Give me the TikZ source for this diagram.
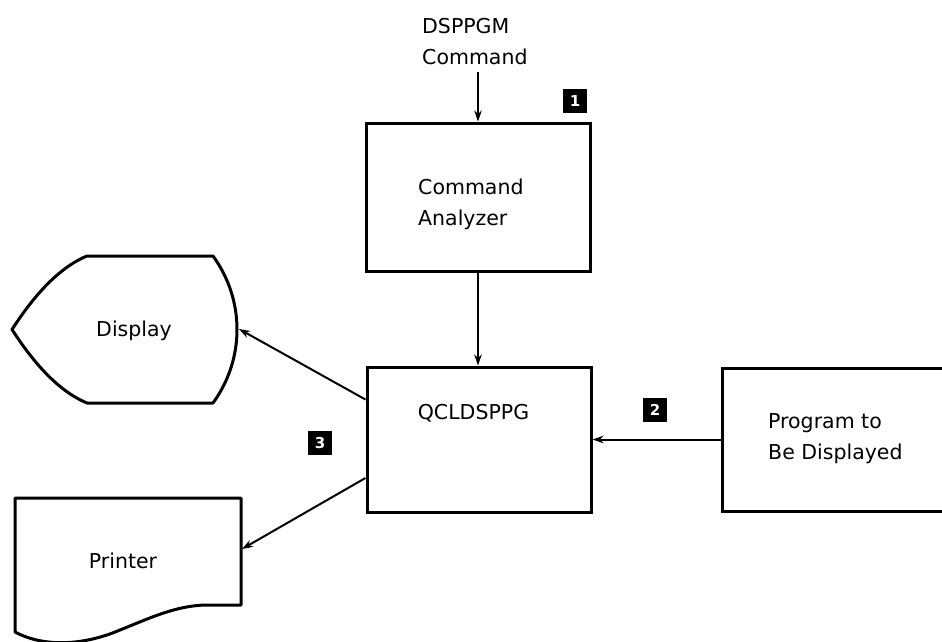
\documentclass[tikz,border=0pt]{standalone}
\usepackage{fontspec}
\setmainfont{DejaVu Sans}
\usetikzlibrary{arrows.meta,calc}

\tikzset{
  box/.style={draw, line width=3pt, inner sep=0pt},
  txt/.style={inner sep=0pt, align=left, font=\fontsize{20.5}{31}\selectfont},
  arr/.style={line width=2pt, -{Stealth[length=11pt,width=7.5pt]}},
  shapeline/.style={line width=3pt, line join=round},
  badge/.style={fill=black, text=white, inner sep=0pt, minimum width=24pt,
    minimum height=24pt, font=\bfseries\fontsize{15}{15}\selectfont}
}

\begin{document}
\begin{tikzpicture}[x=1pt,y=-1pt]
\useasboundingbox (0,0) rectangle (942,642);
\clip (0,0) rectangle (942,642);

% command text
\node[txt, anchor=west] (cmd) at (422,41.5) {DSPPGM\\Command};
\coordinate (cmdend) at (478,72);

% processing boxes
\node[box, minimum width=224pt, minimum height=148pt] (ca) at (478,197) {};
\node[txt, anchor=west] (catext) at (418,204) {Command\\Analyzer};

\node[box, minimum width=224pt, minimum height=145pt] (qcl) at (479,439.5) {};
\node[txt, anchor=base] (qcltext) at (473.5,419) {QCLDSPPG};

\node[box, minimum width=240pt, minimum height=143pt] (prog) at (842,439.5) {};
\node[txt, anchor=west] (progtext) at (768,439) {Program to\\Be Displayed};

% display symbol
\draw[shapeline] (87,256) -- (213,256)
  .. controls (245,300) and (245,359) .. (213,403)
  -- (87,403)
  .. controls (58,391) and (33,362) .. (12,329.5)
  .. controls (33,297) and (58,268) .. cycle;
\node[txt, anchor=base] (disp) at (134,336) {Display};
\coordinate (dispR) at (239,329);

% printer (document) symbol
\draw[shapeline] (15,498) -- (241,498) -- (241,605) -- (205,605)
  .. controls (175,606) and (150,618) .. (120,630)
  .. controls (85,645) and (45,648) .. (15,632) -- cycle;
\node[txt, anchor=base] (prn) at (123,568) {Printer};
\coordinate (prnR) at (242,549);

% step markers
\node[badge] (b1) at (575,101) {1};
\node[badge] (b2) at (655,410) {2};
\node[badge] (b3) at (320,443) {3};

% connectors
\draw[arr] (cmdend) -- (cmdend |- ca.north);
\draw[arr] (ca.south) -- (ca.south |- qcl.north);
\draw[arr] (prog.west) -- (prog.west -| qcl.east);
\draw[arr] ($(qcl.north west)!0.23!(qcl.south west)$) -- (dispR);
\draw[arr] ($(qcl.north west)!0.76!(qcl.south west)$) -- (prnR);
\end{tikzpicture}
\end{document}
